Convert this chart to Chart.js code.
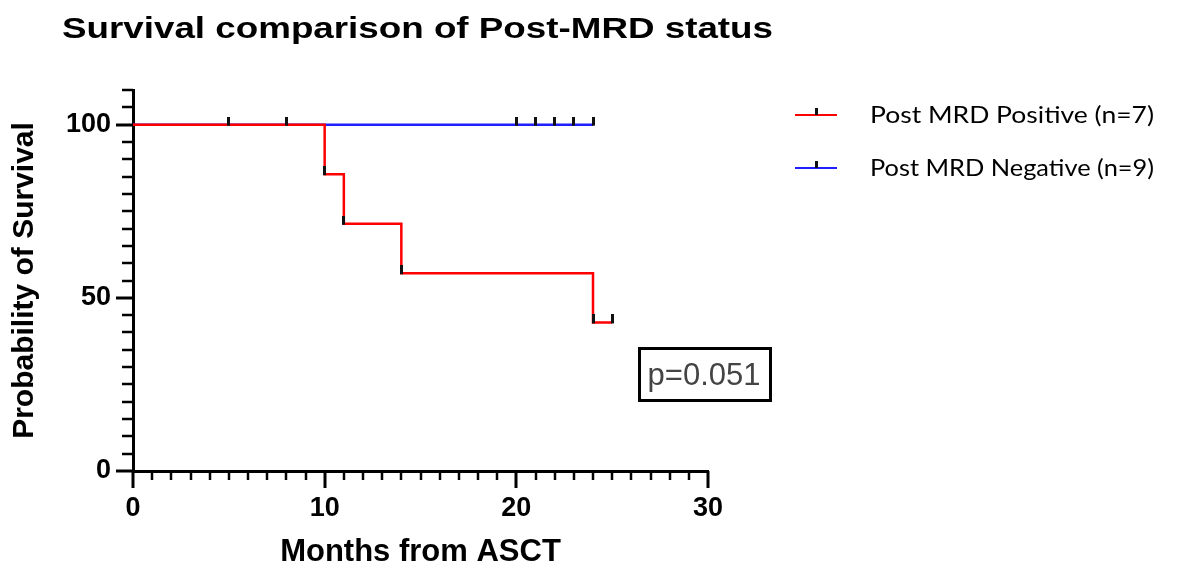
<!DOCTYPE html>
<html><head><meta charset="utf-8">
<script src="https://cdn.jsdelivr.net/npm/chart.js@4"></script>
<style>html,body{margin:0;padding:0;background:#fff}#wrap{width:1184px;height:571px}</style>
</head><body><div id="wrap"><canvas id="c" width="1184" height="571"></canvas></div>
<script>
const titleText = 'Survival comparison of Post-MRD status';
const xTitle = 'Months from ASCT';
const yTitle = 'Probability of Survival';
const seriesNames = ['Post MRD Positive (n=7)', 'Post MRD Negative (n=9)'];
const seriesColors = ['#ff0000', '#1f1fff'];
const posTimes = [0, 10, 11, 14, 24, 25];
const posSurv = [100, 85.7, 71.4, 57.1, 42.9, 42.9];
const posCensorTimes = [10, 11, 14, 24, 25];
const posCensorSurv = [85.7, 71.4, 57.1, 42.9, 42.9];
const negTimes = [0, 24];
const negSurv = [100, 100];
const negCensorTimes = [5, 8, 20, 21, 22, 23, 24];
const negCensorSurv = [100, 100, 100, 100, 100, 100, 100];
const xTicks = [0, 10, 20, 30];
const yTicks = [0, 50, 100];
const xMinorStep = 1;
const yMinorStep = 5;
const pValueText = 'p=0.051';

const toXY = (xs, ys) => xs.map((x, i) => ({x: x, y: ys[i]}));

// censor tick marker (vertical tick rising from the line)
const tick = document.createElement('canvas');
tick.width = 3; tick.height = 16;
const tctx = tick.getContext('2d');
tctx.fillStyle = '#111';
tctx.fillRect(0, 0, 3, 9);

const AX = '"Liberation Sans", Arial, sans-serif';

const decor = {
  id: 'decor',
  afterDraw(chart) {
    const ctx = chart.ctx;
    const xs = chart.scales.x, ys = chart.scales.y;
    const L = chart.chartArea.left, B = chart.chartArea.bottom;
    ctx.save();
    ctx.strokeStyle = '#000';
    ctx.lineCap = 'butt';
    // x ticks
    for (let v = xs.min; v <= xs.max + 1e-9; v += xMinorStep) {
      const px = Math.round(xs.getPixelForValue(v));
      const major = xTicks.includes(v);
      ctx.lineWidth = major ? 3 : 2.5;
      ctx.beginPath();
      ctx.moveTo(px, B);
      ctx.lineTo(px, B + (major ? 17 : 9));
      ctx.stroke();
    }
    // y ticks
    for (let v = ys.min; v <= ys.max + 1e-9; v += yMinorStep) {
      const py = Math.round(ys.getPixelForValue(v));
      const major = yTicks.includes(v);
      ctx.lineWidth = major ? 3 : 2.5;
      ctx.beginPath();
      ctx.moveTo(L, py);
      ctx.lineTo(L - (major ? 17 : 11), py);
      ctx.stroke();
    }
    // title
    ctx.fillStyle = '#000';
    ctx.font = 'bold 30px ' + AX;
    ctx.textBaseline = 'alphabetic';
    ctx.textAlign = 'left';
    let w = ctx.measureText(titleText).width;
    ctx.save();
    ctx.translate(62, 38);
    ctx.scale(711 / w, 1);
    ctx.fillText(titleText, 0, 0);
    ctx.restore();
    // legend
    const legFont = '23px Lato, "Open Sans", sans-serif';
    ctx.font = legFont;
    chart.data.datasets.slice(0, 2).forEach((ds, i) => {
      const y = 115 + i * 53;
      ctx.strokeStyle = ds.borderColor;
      ctx.lineWidth = 2;
      ctx.beginPath(); ctx.moveTo(795, y); ctx.lineTo(837, y); ctx.stroke();
      ctx.fillStyle = '#111';
      ctx.fillRect(815, y - 7, 3, 7);
      ctx.fillStyle = '#000';
      ctx.textBaseline = 'middle';
      const lw = ctx.measureText(ds.label).width;
      ctx.save();
      ctx.translate(870, y + 1);
      ctx.scale(284 / lw, 1);
      ctx.fillText(ds.label, 0, 0);
      ctx.restore();
    });
    // p-value box
    ctx.lineWidth = 3;
    ctx.strokeStyle = '#000';
    ctx.strokeRect(639.5, 348.5, 131, 52);
    ctx.fillStyle = '#444';
    ctx.font = '31px ' + AX;
    ctx.textAlign = 'center';
    ctx.textBaseline = 'middle';
    ctx.fillText(pValueText, 704, 376);
    ctx.restore();
  }
};

new Chart(document.getElementById('c'), {
  type: 'line',
  data: {
    datasets: [
      {label: seriesNames[0], data: toXY(posTimes, posSurv), borderColor: seriesColors[0], borderWidth: 2.5, stepped: 'before', pointRadius: 0, order: 1},
      {label: seriesNames[1], data: toXY(negTimes, negSurv), borderColor: seriesColors[1], borderWidth: 2.5, stepped: 'before', pointRadius: 0, order: 2},
      {label: 'censor-pos', data: toXY(posCensorTimes, posCensorSurv), showLine: false, pointStyle: tick, order: 0},
      {label: 'censor-neg', data: toXY(negCensorTimes, negCensorSurv), showLine: false, pointStyle: tick, order: 0}
    ]
  },
  options: {
    responsive: false,
    animation: false,
    events: [],
    layout: {padding: {top: 90, right: 476, bottom: 0, left: 0}},
    plugins: {legend: {display: false}, tooltip: {enabled: false}, title: {display: false}},
    scales: {
      x: {
        type: 'linear', min: 0, max: 30,
        afterBuildTicks: s => { s.ticks = xTicks.map(v => ({value: v})); },
        afterFit: s => { s.height = 100; },
        grid: {display: false, drawTicks: false},
        border: {display: true, width: 3, color: '#000'},
        ticks: {font: {family: AX, size: 27, weight: 'bold'}, color: '#000', padding: 21, maxRotation: 0, autoSkip: false},
        title: {display: true, text: xTitle, font: {family: AX, size: 31, weight: 'bold'}, color: '#000', padding: {top: 0, bottom: 0}}
      },
      y: {
        type: 'linear', min: 0, max: 110,
        afterBuildTicks: s => { s.ticks = yTicks.map(v => ({value: v})); },
        afterFit: s => { s.width = 133; },
        grid: {display: false, drawTicks: false},
        border: {display: true, width: 3, color: '#000'},
        ticks: {font: {family: AX, size: 27, weight: 'bold'}, color: '#000', padding: 22},
        title: {display: true, text: yTitle, font: {family: AX, size: 30, weight: 'bold'}, color: '#000', padding: {top: 7, bottom: 0}}
      }
    }
  },
  plugins: [decor]
});
</script>
</body></html>
